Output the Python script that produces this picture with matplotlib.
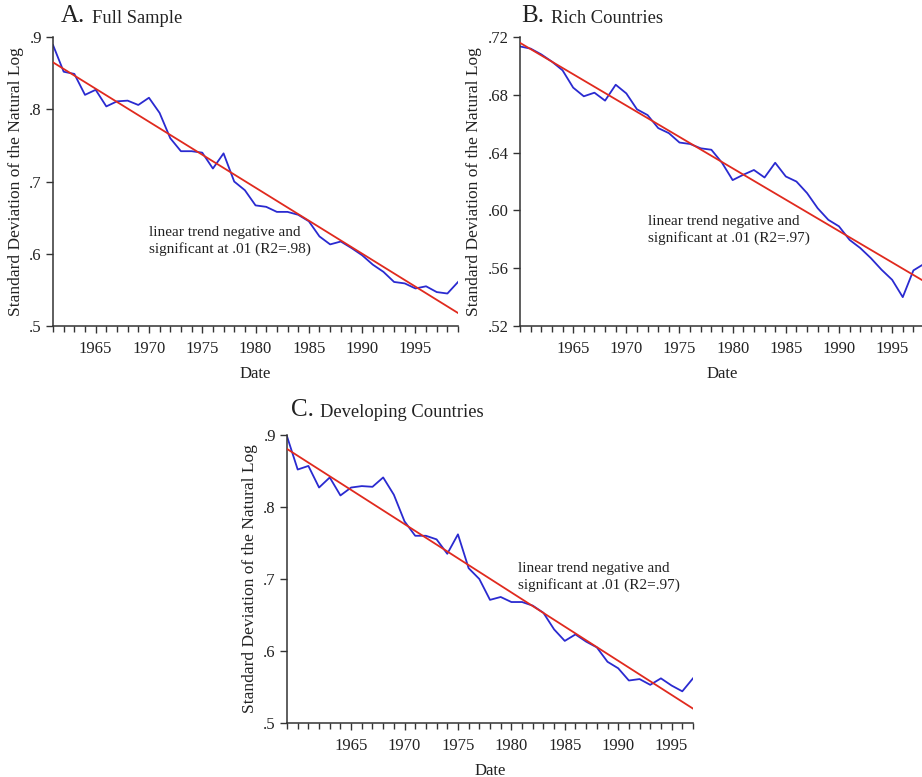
import numpy as np
import matplotlib
matplotlib.use('Agg')
import matplotlib.pyplot as plt
from matplotlib.ticker import MultipleLocator

plt.rcParams['font.family'] = ['Liberation Serif', 'DejaVu Serif']

# panel A - full sample
years_a = list(range(1961, 2000))
sd_a = [0.889, 0.852, 0.849, 0.820, 0.827, 0.804, 0.811, 0.812, 0.806, 0.816,
        0.795, 0.760, 0.742, 0.742, 0.740, 0.718, 0.739, 0.700, 0.688, 0.667,
        0.665, 0.658, 0.658, 0.654, 0.645, 0.624, 0.613, 0.617, 0.608, 0.598,
        0.585, 0.575, 0.561, 0.559, 0.552, 0.555, 0.547, 0.545, 0.561]
trend_a = [0.865, 0.518]

# panel B - rich countries
years_b = list(range(1960, 1999))
sd_b = [0.7135, 0.712, 0.708, 0.703, 0.697, 0.685, 0.679, 0.6815, 0.676, 0.687,
        0.681, 0.670, 0.666, 0.657, 0.6535, 0.647, 0.646, 0.643, 0.642, 0.633,
        0.621, 0.6247, 0.628, 0.6228, 0.633, 0.6235, 0.620, 0.612, 0.6015, 0.5935,
        0.589, 0.5796, 0.574, 0.567, 0.559, 0.552, 0.540, 0.5585, 0.563]
trend_b = [0.716, 0.551]

# panel C - developing countries
years_c = list(range(1959, 1998))
sd_c = [0.898, 0.852, 0.857, 0.827, 0.841, 0.816, 0.827, 0.829, 0.828, 0.841,
        0.817, 0.780, 0.760, 0.760, 0.755, 0.735, 0.762, 0.715, 0.700, 0.671,
        0.675, 0.668, 0.668, 0.663, 0.653, 0.630, 0.614, 0.623, 0.613, 0.605,
        0.585, 0.576, 0.559, 0.561, 0.553, 0.562, 0.552, 0.544, 0.562]
trend_c = [0.8806, 0.520]

panels = [
    dict(letter='A.', name='Full Sample', years=years_a, sd=sd_a, trend=trend_a,
         yticks=[0.5, 0.6, 0.7, 0.8, 0.9], ylabels=['.5', '.6', '.7', '.8', '.9'],
         xlim=(1961, 1999), note_xy=(1970.0, 0.618), r2='.98',
         rect=[0.0575, 0.5804, 0.4393, 0.3719], title_xy=(0.019, 1.052)),
    dict(letter='B.', name='Rich Countries', years=years_b, sd=sd_b, trend=trend_b,
         yticks=[0.52, 0.56, 0.60, 0.64, 0.68, 0.72],
         ylabels=['.52', '.56', '.60', '.64', '.68', '.72'],
         xlim=(1960, 1998), note_xy=(1972.0, 0.5864), r2='.97',
         rect=[0.564, 0.5804, 0.4382, 0.3719], title_xy=(0.002, 1.052)),
    dict(letter='C.', name='Developing Countries', years=years_c, sd=sd_c, trend=trend_c,
         yticks=[0.5, 0.6, 0.7, 0.8, 0.9], ylabels=['.5', '.6', '.7', '.8', '.9'],
         xlim=(1959, 1997), note_xy=(1980.6, 0.7028), r2='.97',
         rect=[0.3113, 0.0695, 0.4403, 0.3707], title_xy=(0.009, 1.066)),
]

txt = '#222222'
fig = plt.figure(figsize=(9.22, 7.77), dpi=100)

for p in panels:
    ax = fig.add_axes(p['rect'])
    ax.plot(p['years'], p['sd'], color='#2a2ad0', lw=1.3, zorder=2)
    ax.plot(p['xlim'], p['trend'], color='#e02a1e', lw=1.3, zorder=3)

    ax.set_xlim(p['xlim'])
    ax.set_ylim(p['yticks'][0], p['yticks'][-1])
    ax.set_yticks(p['yticks'])
    ax.set_yticklabels(p['ylabels'])
    ax.set_xticks([1965, 1970, 1975, 1980, 1985, 1990, 1995])
    ax.xaxis.set_minor_locator(MultipleLocator(1))

    for s in ['top', 'right']:
        ax.spines[s].set_visible(False)
    for s in ['left', 'bottom']:
        ax.spines[s].set_color('#333333')
        ax.spines[s].set_linewidth(1.1)
    ax.tick_params(which='major', direction='out', length=5, width=1.0,
                   color='#333333', labelsize=12, labelcolor=txt, pad=3)
    ax.tick_params(which='minor', direction='out', length=4, width=1.0, color='#333333')
    ax.tick_params(axis='x', pad=6)

    ax.set_xlabel('Date', fontsize=12, color=txt, labelpad=6)
    ax.set_ylabel('Standard Deviation of the Natural Log', fontsize=12.5, color=txt, labelpad=4)

    ax.text(p['note_xy'][0], p['note_xy'][1],
            'linear trend negative and\nsignificant at .01 (R2=' + p['r2'] + ')',
            fontsize=11, color=txt, va='center', ha='left', linespacing=1.25)

    # panel title: big letter plus smaller name
    t = ax.text(p['title_xy'][0], p['title_xy'][1], p['letter'], transform=ax.transAxes,
                fontsize=18, color=txt, va='baseline', ha='left')
    ax.annotate(p['name'], xy=(1, 0), xycoords=t, xytext=(5, 0),
                textcoords='offset points', fontsize=13.3,
                color=txt, va='bottom', ha='left')

fig.savefig('out.png', dpi=100)
